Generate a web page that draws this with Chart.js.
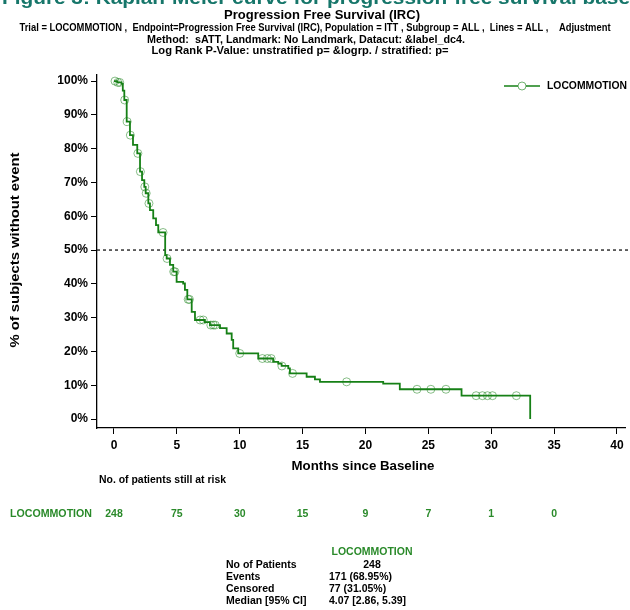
<!DOCTYPE html>
<html>
<head>
<meta charset="utf-8">
<script src="https://cdn.jsdelivr.net/npm/chart.js@4.4.1/dist/chart.umd.min.js"></script>
<style>
  html, body { margin: 0; padding: 0; background: #fff; }
  #wrap { width: 630px; height: 610px; }
</style>
</head>
<body>
<div id="wrap"><canvas id="kmChart" width="630" height="610"></canvas></div>
<script>
const armName = 'LOCOMMOTION';

// Kaplan-Meier steps: month of event, % progression-free after it
const eventMonths = [0, 0.25, 0.6, 0.7, 0.82, 1.01, 1.27, 1.51, 1.85, 2.07, 2.23, 2.41, 2.52, 2.73, 2.86, 3.12, 3.34, 3.52,
  4.07, 4.19, 4.45, 4.71, 4.98, 5.5, 5.64, 5.83, 6.18, 6.44, 7.23, 7.63, 8.43, 8.96, 9.36, 9.48, 9.88,
  11.47, 12.66, 13.06, 13.33, 13.86, 13.99, 15.32, 15.98, 16.38, 21.41, 22.73, 27.64, 33.1];
const survivalPct = [100, 99.6, 99.2, 97.2, 94.4, 88.0, 84.0, 81.1, 78.6, 73.2, 70.7, 68.7, 66.8, 63.8, 61.8, 59.4, 57.4, 55.2,
  48.5, 47.5, 45.6, 43.6, 40.6, 40.1, 38.2, 35.4, 31.7, 29.3, 28.7, 27.8, 26.9, 25.3, 23.4, 20.9, 19.4,
  17.9, 16.9, 16.4, 15.7, 15.0, 13.5, 12.5, 11.7, 11.0, 10.5, 8.8, 6.9, 0];

// censored subjects
const censorMonths = [0.08, 0.3, 0.45, 0.85, 1.05, 1.3, 1.9, 2.1, 2.45, 2.56, 2.78, 3.9, 4.22, 4.75, 4.85, 5.9, 6.0,
  6.85, 7.1, 7.7, 7.9, 8.05, 10.0, 11.8, 12.2, 12.5, 13.35, 14.2, 18.5, 24.1, 25.2, 26.4, 28.8, 29.3, 29.7, 30.1, 32.0];
const censorPct = [100, 99.6, 99.6, 94.4, 88.0, 84.0, 78.6, 73.2, 68.7, 66.8, 63.8, 55.2, 47.5, 43.6, 43.6, 35.4, 35.4,
  29.3, 29.3, 27.8, 27.8, 27.8, 19.4, 17.9, 17.9, 17.9, 15.7, 13.5, 11.0, 8.8, 8.8, 8.8, 6.9, 6.9, 6.9, 6.9, 6.9];

const xTicks = [0, 5, 10, 15, 20, 25, 30, 35, 40];
const yTicks = [0, 10, 20, 30, 40, 50, 60, 70, 80, 90, 100];

const riskMonths = [0, 5, 10, 15, 20, 25, 30, 35];
const atRisk = [248, 75, 30, 15, 9, 7, 1, 0];

const summaryLabels = ['No of Patients', 'Events', 'Censored', 'Median [95% CI]'];
const summaryValues = ['248', '171 (68.95%)', '77 (31.05%)', '4.07 [2.86, 5.39]'];

const GREEN = '#168016';
const TEXT_GREEN = '#2a8a2a';
const FONT = '"Liberation Sans", Arial, sans-serif';

// draw text, squeezing it horizontally when a width is given
function txt(ctx, s, x, y, o) {
  ctx.save();
  ctx.font = 'bold ' + o.size + 'px ' + FONT;
  ctx.fillStyle = o.color || '#000';
  ctx.textAlign = o.align || 'left';
  ctx.textBaseline = o.base || 'middle';
  let sx = 1;
  if (o.w) sx = o.w / ctx.measureText(o.ref || s).width;
  ctx.translate(x, y);
  if (o.rot) ctx.rotate(o.rot);
  ctx.scale(sx, 1);
  ctx.fillText(s, 0, 0);
  ctx.restore();
}

const decorations = {
  id: 'decorations',
  beforeDatasetsDraw(chart) {
    const { ctx, chartArea, scales } = chart;
    const y50 = scales.y.getPixelForValue(50);
    ctx.save();
    ctx.strokeStyle = '#333';
    ctx.lineWidth = 1.5;
    ctx.setLineDash([3, 3]);
    ctx.beginPath();
    ctx.moveTo(chartArea.left, y50);
    ctx.lineTo(chartArea.right + 5, y50);
    ctx.stroke();
    ctx.restore();
  },
  afterDraw(chart) {
    const { ctx, scales } = chart;
    const xs = scales.x;

    // page headings
    txt(ctx, 'Figure 3: Kaplan-Meier curve for progression-free survival baseline', 2, 4,
      { size: 18, color: '#16766a', base: 'alphabetic', w: 628, ref: 'Figure 3: Kaplan-Meier curve for progression-free survival base' });
    txt(ctx, 'Progression Free Survival (IRC)', 322, 15, { size: 13, align: 'center', w: 196 });
    txt(ctx, 'Trial = LOCOMMOTION ,  Endpoint=Progression Free Survival (IRC), Population = ITT , Subgroup = ALL ,  Lines = ALL ,    Adjustment',
      315, 28, { size: 10, align: 'center', w: 591 });
    txt(ctx, 'Method:  sATT, Landmark: No Landmark, Datacut: &label_dc4.', 306, 40, { size: 10, align: 'center', w: 318 });
    txt(ctx, 'Log Rank P-Value: unstratified p= &logrp. / stratified: p=', 300, 51, { size: 11, align: 'center', w: 297 });

    // axis titles
    txt(ctx, '% of subjects without event', 16, 250, { size: 12, align: 'center', rot: -Math.PI / 2, w: 195 });
    txt(ctx, 'Months since Baseline', 363, 466, { size: 13, align: 'center', w: 143 });

    // legend
    const ly = 86;
    ctx.save();
    ctx.strokeStyle = GREEN;
    ctx.lineWidth = 1.5;
    ctx.beginPath();
    ctx.moveTo(504, ly);
    ctx.lineTo(540, ly);
    ctx.stroke();
    ctx.strokeStyle = 'rgba(22,128,22,0.6)';
    ctx.lineWidth = 1;
    ctx.beginPath();
    ctx.arc(522, ly, 4, 0, Math.PI * 2);
    ctx.fillStyle = '#fff';
    ctx.fill();
    ctx.stroke();
    ctx.restore();
    txt(ctx, armName, 547, ly, { size: 10.5, w: 80 });

    // numbers at risk
    txt(ctx, 'No. of patients still at risk', 99, 480, { size: 10.5, w: 127 });
    txt(ctx, armName, 10, 514, { size: 10.5, color: TEXT_GREEN, w: 82 });
    riskMonths.forEach((m, i) => {
      txt(ctx, String(atRisk[i]), xs.getPixelForValue(m), 514, { size: 10.5, color: TEXT_GREEN, align: 'center' });
    });

    // summary table
    txt(ctx, armName, 372, 552, { size: 10.5, color: TEXT_GREEN, align: 'center', w: 81 });
    summaryLabels.forEach((s, i) => {
      txt(ctx, s, 226, 565 + i * 12, { size: 10.5 });
      if (i === 0) txt(ctx, summaryValues[i], 372, 565, { size: 10.5, align: 'center' });
      else txt(ctx, summaryValues[i], 329, 565 + i * 12, { size: 10.5 });
    });
  }
};

const tickFont = { family: FONT, size: 12, weight: 'bold' };

new Chart(document.getElementById('kmChart'), {
  type: 'line',
  data: {
    datasets: [{
      label: armName,
      data: eventMonths.map((m, i) => ({ x: m, y: survivalPct[i] })),
      borderColor: GREEN,
      borderWidth: 1.8,
      stepped: true,
      pointRadius: 0,
      fill: false
    }, {
      label: armName + ' censored',
      data: censorMonths.map((m, i) => ({ x: m, y: censorPct[i] })),
      showLine: false,
      pointStyle: 'circle',
      pointRadius: 4,
      pointBorderWidth: 1,
      pointBorderColor: 'rgba(22,128,22,0.5)',
      pointBackgroundColor: 'rgba(0,0,0,0)'
    }]
  },
  options: {
    responsive: false,
    animation: false,
    layout: { padding: { top: 75, right: 5, bottom: 158, left: 0 } },
    plugins: { legend: { display: false }, tooltip: { enabled: false } },
    scales: {
      x: {
        type: 'linear',
        min: -1.352,
        max: 40.64,
        afterBuildTicks: s => { s.ticks = xTicks.map(v => ({ value: v })); },
        afterFit: s => { s.height = 24; },
        grid: { drawOnChartArea: false, tickLength: 6, color: '#000', lineWidth: 1 },
        border: { color: '#000', width: 1.3 },
        ticks: { font: tickFont, color: '#000', padding: 4, maxRotation: 0 }
      },
      y: {
        type: 'linear',
        min: -2.66,
        max: 101.8,
        afterBuildTicks: s => { s.ticks = yTicks.map(v => ({ value: v })); },
        afterFit: s => { s.width = 97; },
        grid: { drawOnChartArea: false, tickLength: 6, color: '#000', lineWidth: 1 },
        border: { color: '#000', width: 1.3 },
        ticks: { font: tickFont, color: '#000', padding: 3, callback: v => v + '%' }
      }
    }
  },
  plugins: [decorations]
});
</script>
</body>
</html>
